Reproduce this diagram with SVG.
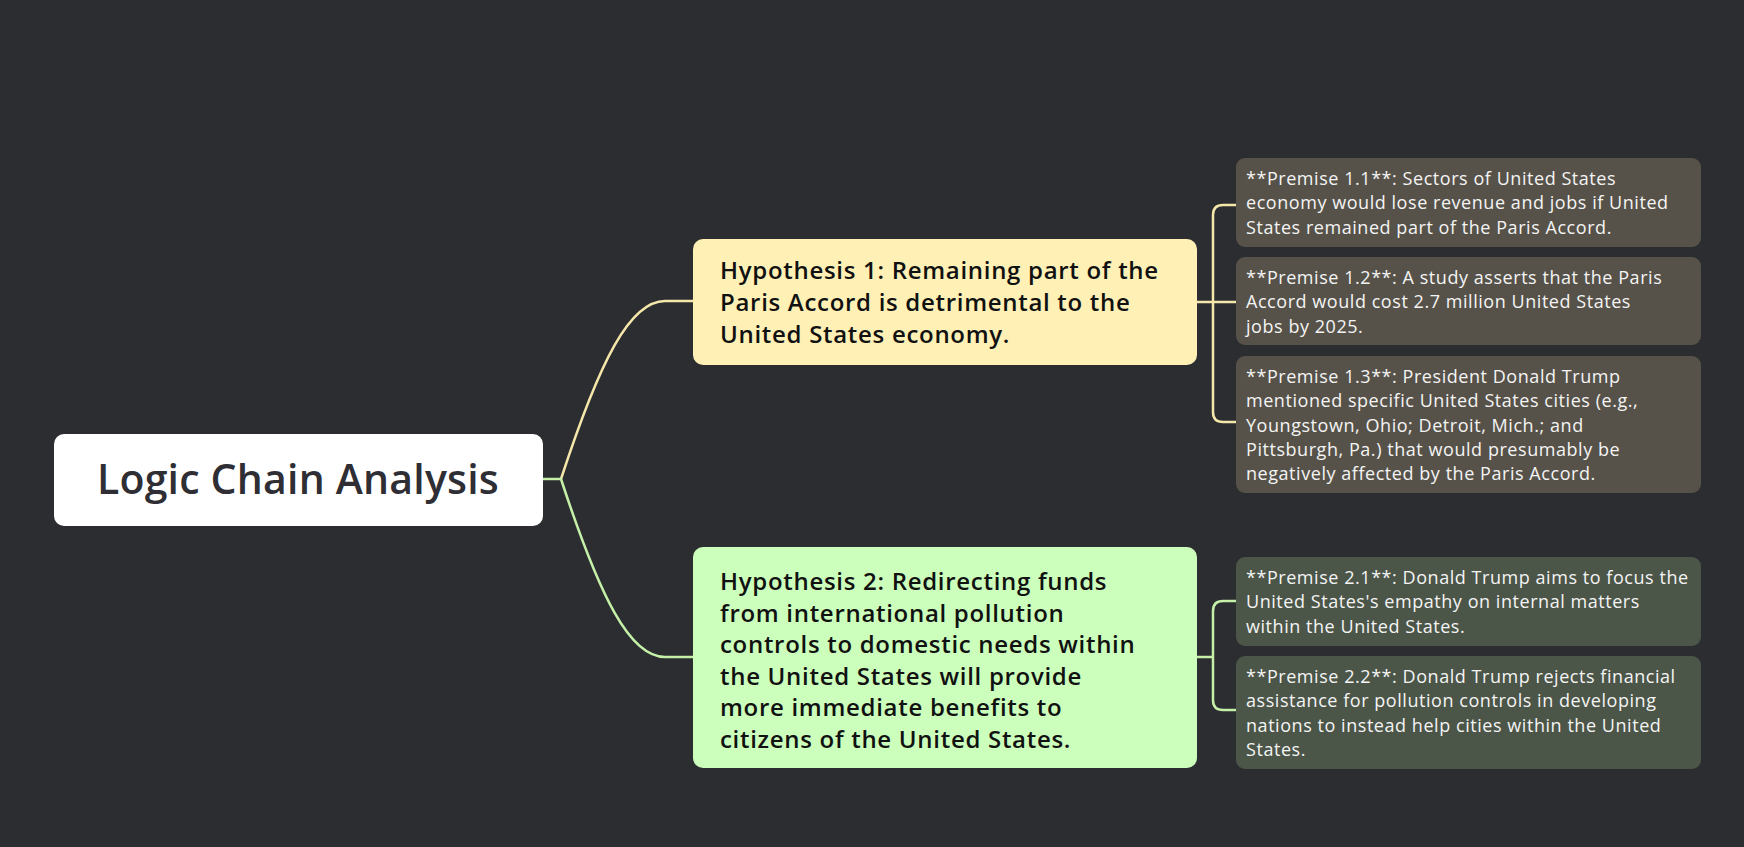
<svg xmlns="http://www.w3.org/2000/svg" width="1744" height="847" viewBox="0 0 1744 847">
<style>
.bg{fill:#2c2d31}
.root{fill:#ffffff}
.h1{fill:#fff0b6}
.h2{fill:#ccffbb}
.p1{fill:#565249}
.p2{fill:#4b5548}
.tr{font-family:"Open Sans","Liberation Sans",sans-serif;font-size:41px;font-weight:600;letter-spacing:0.2px;fill:#2e2e34}
.th{font-family:"Open Sans","Liberation Sans",sans-serif;font-size:24px;font-weight:600;letter-spacing:0.7px;fill:#111111}
.tp{font-family:"Open Sans","Liberation Sans",sans-serif;font-size:18px;letter-spacing:0.55px;fill:#f4f4f4}
.cy{fill:none;stroke:#f5e6aa;stroke-width:2.5}
.cg{fill:none;stroke:#c5f0a8;stroke-width:2.5}
</style>
<rect class="bg" x="0" y="0" width="1744" height="847"/>
<g id="connectors">
<path class="cy" d="M561,479 C600,360 630,301 665,301 L693,301"/>
<path class="cg" d="M543,479 L561,479 C600,598 630,657 665,657 L693,657"/>
<path class="cy" d="M1197,302 L1236,302 M1213,302 L1213,215 Q1213,205 1223,205 L1236,205 M1213,302 L1213,412 Q1213,422 1223,422 L1236,422"/>
<path class="cg" d="M1197,657 L1213,657 M1213,657 L1213,611 Q1213,601 1223,601 L1236,601 M1213,657 L1213,700 Q1213,710 1223,710 L1236,710"/>
</g>
<g id="root">
<rect class="root" x="54" y="434" width="489" height="92" rx="10"/>
<text class="tr" x="298" y="494" text-anchor="middle">Logic Chain Analysis</text>
</g>
<g id="hyp1">
<rect class="h1" x="693" y="239" width="504" height="126" rx="10"/>
<text class="th"><tspan x="720" y="279">Hypothesis 1: Remaining part of the</tspan><tspan x="720" y="311">Paris Accord is detrimental to the</tspan><tspan x="720" y="343">United States economy.</tspan></text>
</g>
<g id="hyp2">
<rect class="h2" x="693" y="547" width="504" height="221" rx="10"/>
<text class="th"><tspan x="720" y="590">Hypothesis 2: Redirecting funds</tspan><tspan x="720" y="622">from international pollution</tspan><tspan x="720" y="653">controls to domestic needs within</tspan><tspan x="720" y="685">the United States will provide</tspan><tspan x="720" y="716">more immediate benefits to</tspan><tspan x="720" y="748">citizens of the United States.</tspan></text>
</g>
<g id="p11">
<rect class="p1" x="1236" y="158" width="465" height="89" rx="9"/>
<text class="tp"><tspan x="1246" y="185">**Premise 1.1**: Sectors of United States</tspan><tspan x="1246" y="209">economy would lose revenue and jobs if United</tspan><tspan x="1246" y="234">States remained part of the Paris Accord.</tspan></text>
</g>
<g id="p12">
<rect class="p1" x="1236" y="257" width="465" height="88" rx="9"/>
<text class="tp"><tspan x="1246" y="284">**Premise 1.2**: A study asserts that the Paris</tspan><tspan x="1246" y="308">Accord would cost 2.7 million United States</tspan><tspan x="1246" y="333">jobs by 2025.</tspan></text>
</g>
<g id="p13">
<rect class="p1" x="1236" y="356" width="465" height="137" rx="9"/>
<text class="tp"><tspan x="1246" y="383">**Premise 1.3**: President Donald Trump</tspan><tspan x="1246" y="407">mentioned specific United States cities (e.g.,</tspan><tspan x="1246" y="432">Youngstown, Ohio; Detroit, Mich.; and</tspan><tspan x="1246" y="456">Pittsburgh, Pa.) that would presumably be</tspan><tspan x="1246" y="480">negatively affected by the Paris Accord.</tspan></text>
</g>
<g id="p21">
<rect class="p2" x="1236" y="557" width="465" height="89" rx="9"/>
<text class="tp"><tspan x="1246" y="584">**Premise 2.1**: Donald Trump aims to focus the</tspan><tspan x="1246" y="608">United States's empathy on internal matters</tspan><tspan x="1246" y="633">within the United States.</tspan></text>
</g>
<g id="p22">
<rect class="p2" x="1236" y="656" width="465" height="113" rx="9"/>
<text class="tp"><tspan x="1246" y="683">**Premise 2.2**: Donald Trump rejects financial</tspan><tspan x="1246" y="707">assistance for pollution controls in developing</tspan><tspan x="1246" y="732">nations to instead help cities within the United</tspan><tspan x="1246" y="756">States.</tspan></text>
</g>
</svg>
